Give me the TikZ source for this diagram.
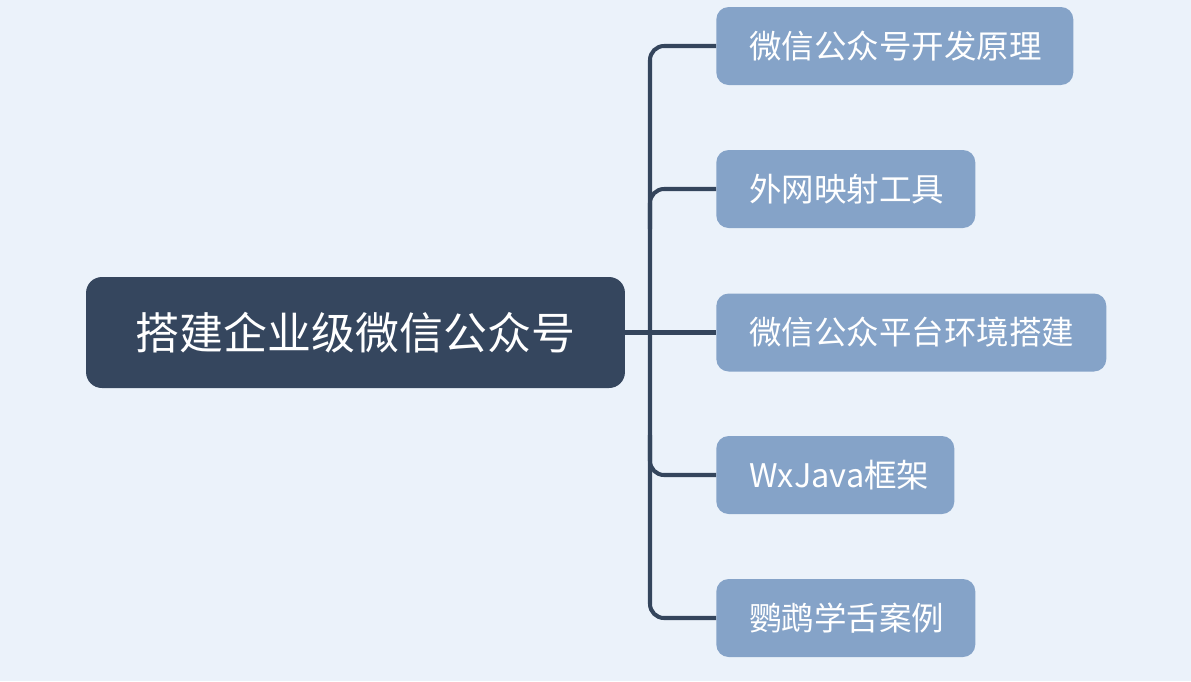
\documentclass[tikz,border=0pt]{standalone}
\usepackage{fontspec}
\setmainfont{Noto Sans CJK SC}
\usepackage{xcolor}
\usetikzlibrary{positioning,calc}
\definecolor{bgc}{HTML}{EBF2FA}
\definecolor{rootc}{HTML}{35465E}
\definecolor{subc}{HTML}{85A3C8}
\definecolor{linec}{HTML}{34455C}
\tikzset{
	root/.style={draw=none, fill=rootc, rounded corners=9pt, text=white,
		minimum width=10.78cm, minimum height=2.22cm, font=\fontsize{25}{29}\selectfont},
	sub/.style={draw=none, fill=subc, rounded corners=7pt, text=white, anchor=west,
		minimum height=1.56cm, align=left, text width=#1, inner xsep=0.66cm,
		font=\fontsize{18.5}{22}\selectfont},
	sub/.default=4cm,
	conn/.style={draw=linec, line width=2.3pt, rounded corners=8pt},
}
\begin{document}
\begin{tikzpicture}[x=0.02cm, y=-0.02cm]
	\useasboundingbox[fill=bgc] (0,0) rectangle (1191,681);
	\node[root] at (355.5,332.5) (top) {搭建企业级微信公众号};
	\node[sub=5.82cm] at (716,46) (s1) {微信公众号开发原理};
	\node[sub=3.86cm] at (716,189) (s2) {外网映射工具};
	\node[sub=6.48cm] at (716,332.5) (s3) {微信公众平台环境搭建};
	\node[sub=3.44cm] at (716,475) (s4) {WxJava框架};
	\node[sub=3.86cm] at (716,618) (s5) {鹦鹉学舌案例};
	\coordinate (bus) at (650,332.5);
	% bus and branches
	\draw[conn] (s1.west) -| (bus);
	\draw[conn] (bus) |- (s5.west);
	\draw[conn] ($(bus |- s2.west)+(0,40)$) |- (s2.west);
	\draw[conn] ($(bus |- s4.west)+(0,-40)$) |- (s4.west);
	\draw[conn] (top.east) -- (s3.west);
\end{tikzpicture}
\end{document}
